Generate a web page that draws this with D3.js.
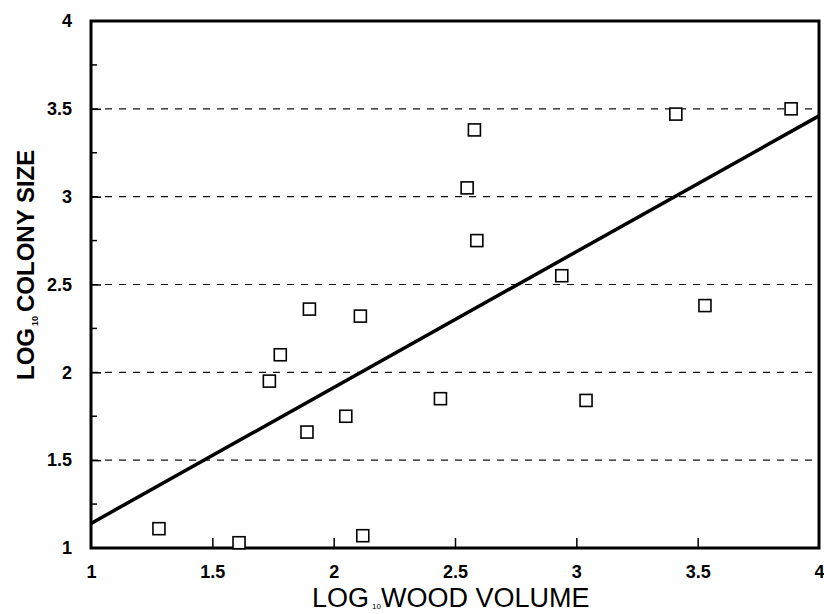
<!DOCTYPE html>
<html>
<head>
<meta charset="utf-8">
<script src="https://cdn.jsdelivr.net/npm/d3@7"></script>
<style>
  html, body { margin: 0; padding: 0; background: #fff; }
  svg { display: block; }
</style>
</head>
<body>
<svg id="chart" width="824" height="614"></svg>
<script>
// Data
const woodVolume = [1.28, 1.61, 1.735, 1.78, 1.90, 1.89, 2.05, 2.11, 2.12, 2.44, 2.55, 2.58, 2.59, 2.94, 3.04, 3.41, 3.53, 3.885];
const colonySize = [1.11, 1.03, 1.95, 2.10, 2.36, 1.66, 1.75, 2.32, 1.07, 1.85, 3.05, 3.38, 2.75, 2.55, 1.84, 3.47, 2.38, 3.50];
const fitX = [1, 4];
const fitY = [1.14, 3.46];
const xTicks = [1, 1.5, 2, 2.5, 3, 3.5, 4];
const yTicks = [1, 1.5, 2, 2.5, 3, 3.5, 4];
const yMinorTicks = [1.25, 1.75, 2.25, 2.75, 3.25, 3.75];
const xTickLabels = ["1", "1.5", "2", "2.5", "3", "3.5", "4"];
const yTickLabels = ["1", "1.5", "2", "2.5", "3", "3.5", "4"];
const gridValues = [1.5, 2, 2.5, 3, 3.5];

const svg = d3.select("#chart");
const L = 91, R = 819, T = 21, B = 548;
const x = d3.scaleLinear().domain([1, 4]).range([L, R]);
const y = d3.scaleLinear().domain([1, 4]).range([B, T]);
const font = "'Liberation Sans', Arial, Helvetica, sans-serif";

// grid lines
svg.append("g").selectAll("line").data(gridValues).join("line")
  .attr("x1", L).attr("x2", R)
  .attr("y1", d => y(d)).attr("y2", d => y(d))
  .attr("stroke", "#111").attr("stroke-width", 1.2)
  .attr("stroke-dasharray", "7,7");

// frame
svg.append("rect").attr("x", L).attr("y", T).attr("width", R - L).attr("height", B - T)
  .attr("fill", "none").attr("stroke", "#000").attr("stroke-width", 3);

// x axis ticks (inside, pointing up)
const xAxis = d3.axisBottom(x).tickValues(xTicks)
  .tickFormat((d, i) => xTickLabels[i]).tickSizeInner(-10).tickSizeOuter(0).tickPadding(17);
const gx = svg.append("g").attr("transform", `translate(0,${B})`).call(xAxis);
gx.select(".domain").remove();
gx.selectAll(".tick line").attr("stroke", "#000").attr("stroke-width", 1.5)
  .filter(d => d === 1 || d === 4).remove();
gx.selectAll(".tick text").attr("font-family", font).attr("font-size", 18)
  .attr("font-weight", "bold").attr("fill", "#000");

// y axis
const yAxis = d3.axisLeft(y).tickValues(yTicks)
  .tickFormat((d, i) => yTickLabels[i]).tickSizeInner(-10).tickSizeOuter(0).tickPadding(19);
const gy = svg.append("g").attr("transform", `translate(${L},0)`).call(yAxis);
gy.select(".domain").remove();
gy.selectAll(".tick line").attr("stroke", "#000").attr("stroke-width", 1.5)
  .filter(d => d === 1 || d === 4).remove();
gy.selectAll(".tick text").attr("font-family", font).attr("font-size", 18)
  .attr("font-weight", "bold").attr("fill", "#000");

// minor y ticks
svg.append("g").selectAll("line").data(yMinorTicks).join("line")
  .attr("x1", L).attr("x2", L + 6)
  .attr("y1", d => y(d)).attr("y2", d => y(d))
  .attr("stroke", "#000").attr("stroke-width", 1.5);

// regression line
svg.append("line")
  .attr("x1", x(fitX[0])).attr("y1", y(fitY[0]))
  .attr("x2", x(fitX[1])).attr("y2", y(fitY[1]))
  .attr("stroke", "#000").attr("stroke-width", 3.5);

// points (open squares)
const s = 12;
svg.append("g").selectAll("rect").data(woodVolume.map((v, i) => [v, colonySize[i]])).join("rect")
  .attr("x", d => x(d[0]) - s / 2).attr("y", d => y(d[1]) - s / 2)
  .attr("width", s).attr("height", s)
  .attr("fill", "#fff").attr("stroke", "#000").attr("stroke-width", 1.6);

// x axis title
const xt = svg.append("text").attr("x", 312).attr("y", 607)
  .attr("font-family", font).attr("font-size", 27).attr("fill", "#000");
xt.append("tspan").text("LOG");
xt.append("tspan").attr("font-size", 8).attr("dy", 2).attr("dx", 3).text("10");
xt.append("tspan").attr("dy", -2).text("WOOD VOLUME");

// y axis title
const yt = svg.append("text").attr("transform", "translate(34,380) rotate(-90)")
  .attr("font-family", font).attr("font-size", 24).attr("font-weight", "bold").attr("fill", "#000");
yt.append("tspan").text("LOG");
yt.append("tspan").attr("font-size", 9).attr("dy", 4).attr("dx", 2).text("10");
yt.append("tspan").attr("dy", -4).attr("dx", 4).text("COLONY SIZE");
</script>
</body>
</html>
